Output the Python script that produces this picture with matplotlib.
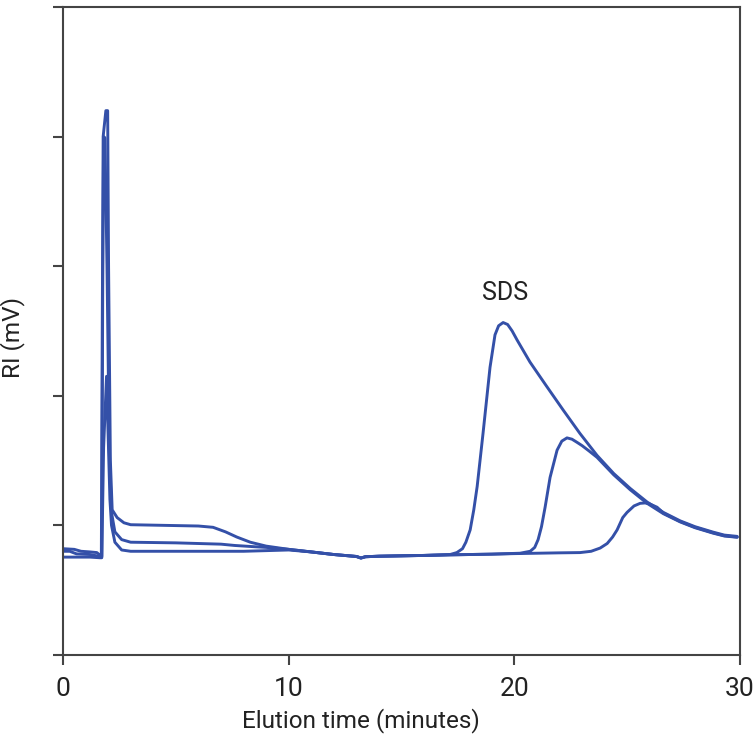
import matplotlib.pyplot as plt

# Elution traces (time in minutes, RI in axis units)
time_a = [0, 0.5, 0.8, 1.2, 1.5, 1.64, 1.70, 1.74, 1.78, 1.90, 1.98, 2.02, 2.10, 2.18,
          2.4, 2.7, 3.0, 4.5, 6.0, 6.65, 7.2, 7.7, 8.3, 9.0, 10.0,
          11.0, 12.0, 13.0, 13.2, 13.4, 14.0, 15.0, 16.0, 17.15, 17.45, 17.7, 17.85,
          18.04, 18.2, 18.35, 18.61, 18.92, 19.14, 19.3, 19.5, 19.7, 19.9, 20.12, 20.69,
          21.4, 22.16, 22.9, 23.66, 24.4, 25.13, 25.88, 26.6, 27.34, 28.0,
          28.8, 29.3, 29.87]
ri_a = [0.82, 0.815, 0.80, 0.795, 0.79, 0.77, 0.76, 2.5, 4.0, 4.2, 4.2, 3.0, 1.5, 1.12,
        1.06, 1.02, 1.005, 1.0, 0.995, 0.985, 0.95, 0.91, 0.87, 0.84, 0.815,
        0.795, 0.775, 0.76, 0.748, 0.758, 0.762, 0.765, 0.768, 0.775, 0.79, 0.82, 0.87,
        0.965, 1.12, 1.30, 1.71, 2.22, 2.47, 2.54, 2.565, 2.55, 2.50, 2.43, 2.26,
        2.08, 1.89, 1.71, 1.54, 1.40, 1.285, 1.18, 1.10, 1.035, 0.99,
        0.948, 0.925, 0.915]

time_b = [0, 0.3, 0.6, 1.2, 1.64, 1.72, 1.76, 1.80, 1.86, 1.95, 2.05, 2.15, 2.3, 2.6,
          3.0, 5.0, 7.0, 7.6, 8.5, 9.0, 10.0,
          11.0, 12.0, 13.0, 13.2, 13.4, 14.0, 15.0, 16.0, 17.0, 18.0, 19.0,
          20.25, 20.7, 20.9, 21.05, 21.2, 21.36, 21.58, 21.89, 22.1, 22.33, 22.55,
          22.78, 23.0, 23.3, 23.66, 24.4, 25.13, 25.88, 26.6, 27.34, 28.0, 28.8,
          29.3, 29.87]
ri_b = [0.80, 0.80, 0.78, 0.775, 0.76, 0.76, 2.8, 4.0, 3.99, 3.0, 1.6, 1.1, 0.95, 0.89,
        0.87, 0.865, 0.855, 0.845, 0.835, 0.83, 0.815,
        0.795, 0.775, 0.76, 0.748, 0.758, 0.762, 0.765, 0.768, 0.772, 0.775, 0.778,
        0.785, 0.80, 0.83, 0.89, 0.99, 1.14, 1.37, 1.58, 1.65, 1.675, 1.665,
        1.64, 1.615, 1.575, 1.525, 1.39, 1.275, 1.17, 1.09, 1.027, 0.982, 0.94,
        0.918, 0.908]

time_c = [0, 0.5, 1.2, 1.64, 1.72, 1.80, 1.93, 2.00, 2.08, 2.15, 2.3, 2.6,
          3.0, 6.0, 8.0, 9.0, 10.0,
          11.0, 12.0, 13.0, 13.2, 13.4, 14.0, 15.0, 16.0, 17.0, 18.0, 19.0,
          20.0, 21.0, 22.0, 22.91, 23.4, 23.8, 24.11, 24.35, 24.55, 24.8, 24.99,
          25.3, 25.57, 25.79, 26.0, 26.32, 26.6, 27.34, 28.0, 28.8, 29.3, 29.87]
ri_c = [0.755, 0.755, 0.755, 0.75, 0.75, 1.6, 2.15, 1.7, 1.2, 1.0, 0.87, 0.81,
        0.80, 0.80, 0.80, 0.805, 0.81,
        0.795, 0.775, 0.76, 0.748, 0.758, 0.762, 0.765, 0.768, 0.772, 0.775, 0.778,
        0.782, 0.785, 0.788, 0.79, 0.80, 0.825, 0.86, 0.91, 0.965, 1.06, 1.10,
        1.15, 1.17, 1.173, 1.165, 1.14, 1.095, 1.03, 0.985, 0.943, 0.92, 0.91]

x_ticks = [0, 10, 20, 30]
y_ticks = [0, 1, 2, 3, 4, 5]

line_color = '#3450a8'
axis_color = '#444444'
text_color = '#222222'
font = ['Liberation Sans Narrow', 'Roboto', 'DejaVu Sans']

fig = plt.figure(figsize=(7.56, 7.42), dpi=100)
ax = fig.add_axes([0.0833, 0.1173, 0.8957, 0.8733])

for t, r in [(time_c, ri_c), (time_b, ri_b), (time_a, ri_a)]:
    ax.plot(t, r, color=line_color, lw=2.1, solid_joinstyle='round', solid_capstyle='round')

ax.set_xlim(0, 30)
ax.set_ylim(0, 5)
ax.set_xticks(x_ticks)
ax.set_xticklabels([str(v) for v in x_ticks], family=font, fontsize=19, color=text_color)
ax.set_yticks(y_ticks)
ax.set_yticklabels([])
ax.tick_params(direction='out', length=7, width=1.5, color=axis_color, pad=9)

for s in ax.spines.values():
    s.set_color(axis_color)
    s.set_linewidth(1.5)

ax.set_xlabel('Elution time (minutes)', family=font, fontsize=17.5, color=text_color)
ax.xaxis.set_label_coords(0.44, -0.082)
ax.set_ylabel('RI (mV)', family=font, fontsize=17.5, color=text_color)
ax.yaxis.set_label_coords(-0.056, 0.49)

ax.text(19.6, 2.7, 'SDS', family=font, fontsize=18, color=text_color, ha='center', va='bottom')

fig.savefig('out.png', dpi=100, pad_inches=0)
